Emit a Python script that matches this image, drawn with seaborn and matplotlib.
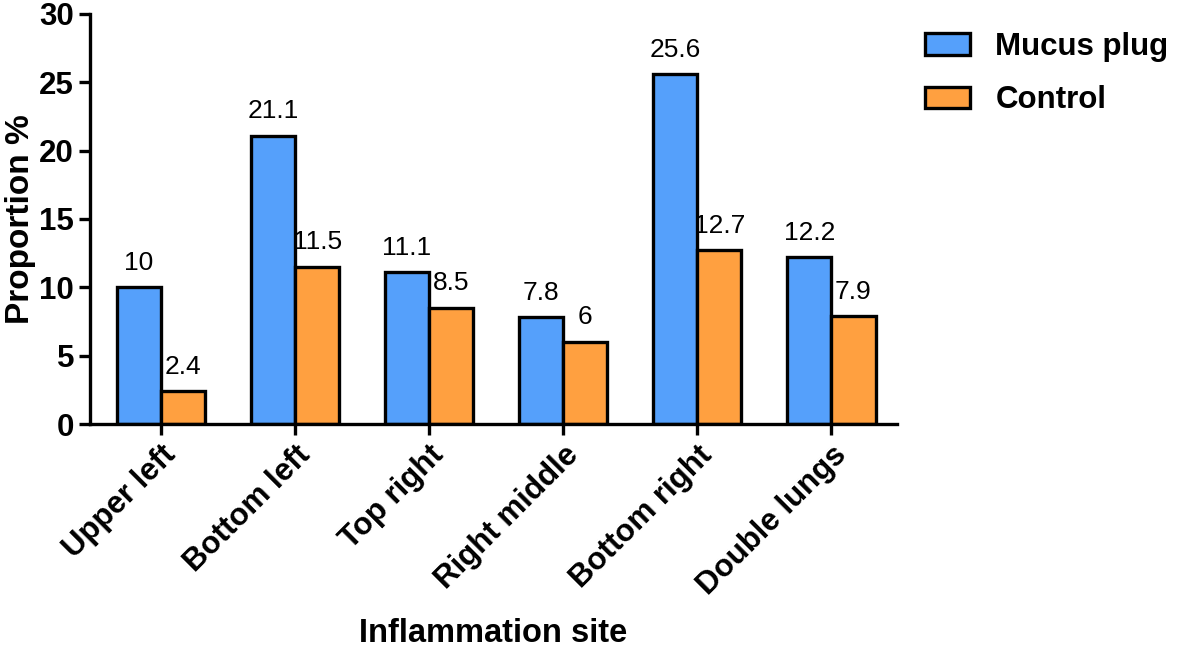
import matplotlib
matplotlib.use('Agg')
import matplotlib.pyplot as plt
import seaborn as sns
import pandas as pd

sites = ['Upper left', 'Bottom left', 'Top right', 'Right middle', 'Bottom right', 'Double lungs']
mucus_plug = [10, 21.1, 11.1, 7.8, 25.6, 12.2]
control = [2.4, 11.5, 8.5, 6, 12.7, 7.9]
groups = ['Mucus plug', 'Control']
colors = ['#55A0FB', '#FFA040']

df = pd.DataFrame({
    'site': sites * 2,
    'value': mucus_plug + control,
    'group': [groups[0]] * len(sites) + [groups[1]] * len(sites),
})

sns.set_style('ticks')
plt.rcParams['font.family'] = ['Liberation Sans', 'DejaVu Sans']
plt.rcParams['text.color'] = 'black'
plt.rcParams['axes.labelcolor'] = 'black'
plt.rcParams['xtick.color'] = 'black'
plt.rcParams['ytick.color'] = 'black'
plt.rcParams['axes.edgecolor'] = 'black'

fig = plt.figure(figsize=(11.81, 6.54), dpi=100)
ax = fig.add_axes([90 / 1181, 1 - 424 / 654, 807 / 1181, 410 / 654])

sns.barplot(data=df, x='site', y='value', hue='group', palette=colors,
            saturation=1, width=0.66, edgecolor='black', linewidth=2.4, ax=ax)

for cont in ax.containers:
    ax.bar_label(cont, fmt='%g', padding=9, fontsize=19, color='black')

ax.set_ylim(0, 30)
ax.set_yticks(range(0, 31, 5))
ax.set_xlim(-0.53, 5.49)
ax.set_xlabel('Inflammation site', fontsize=23.5, fontweight='bold', labelpad=12)
ax.set_ylabel('Proportion %', fontsize=24, fontweight='bold', labelpad=2)
ax.tick_params(axis='both', width=2.4, length=8, labelsize=22.5, direction='out')
for lbl in ax.get_yticklabels():
    lbl.set_fontweight('bold')
for lbl in ax.get_xticklabels():
    lbl.set_fontweight('bold')
    lbl.set_rotation(45)
    lbl.set_ha('right')
    lbl.set_rotation_mode('anchor')

sns.despine(ax=ax)
for s in ['left', 'bottom']:
    ax.spines[s].set_linewidth(2.4)

handles, labels = ax.get_legend_handles_labels()
ax.legend(handles, labels, loc='upper left',
          bbox_to_anchor=(925 / 1181, 1 - 32 / 654), bbox_transform=fig.transFigure,
          frameon=False, borderpad=0, borderaxespad=0,
          prop={'size': 22.5, 'weight': 'bold'},
          handlelength=1.45, handleheight=0.7, handletextpad=0.8, labelspacing=0.75)

fig.savefig('out.png', dpi=100)
